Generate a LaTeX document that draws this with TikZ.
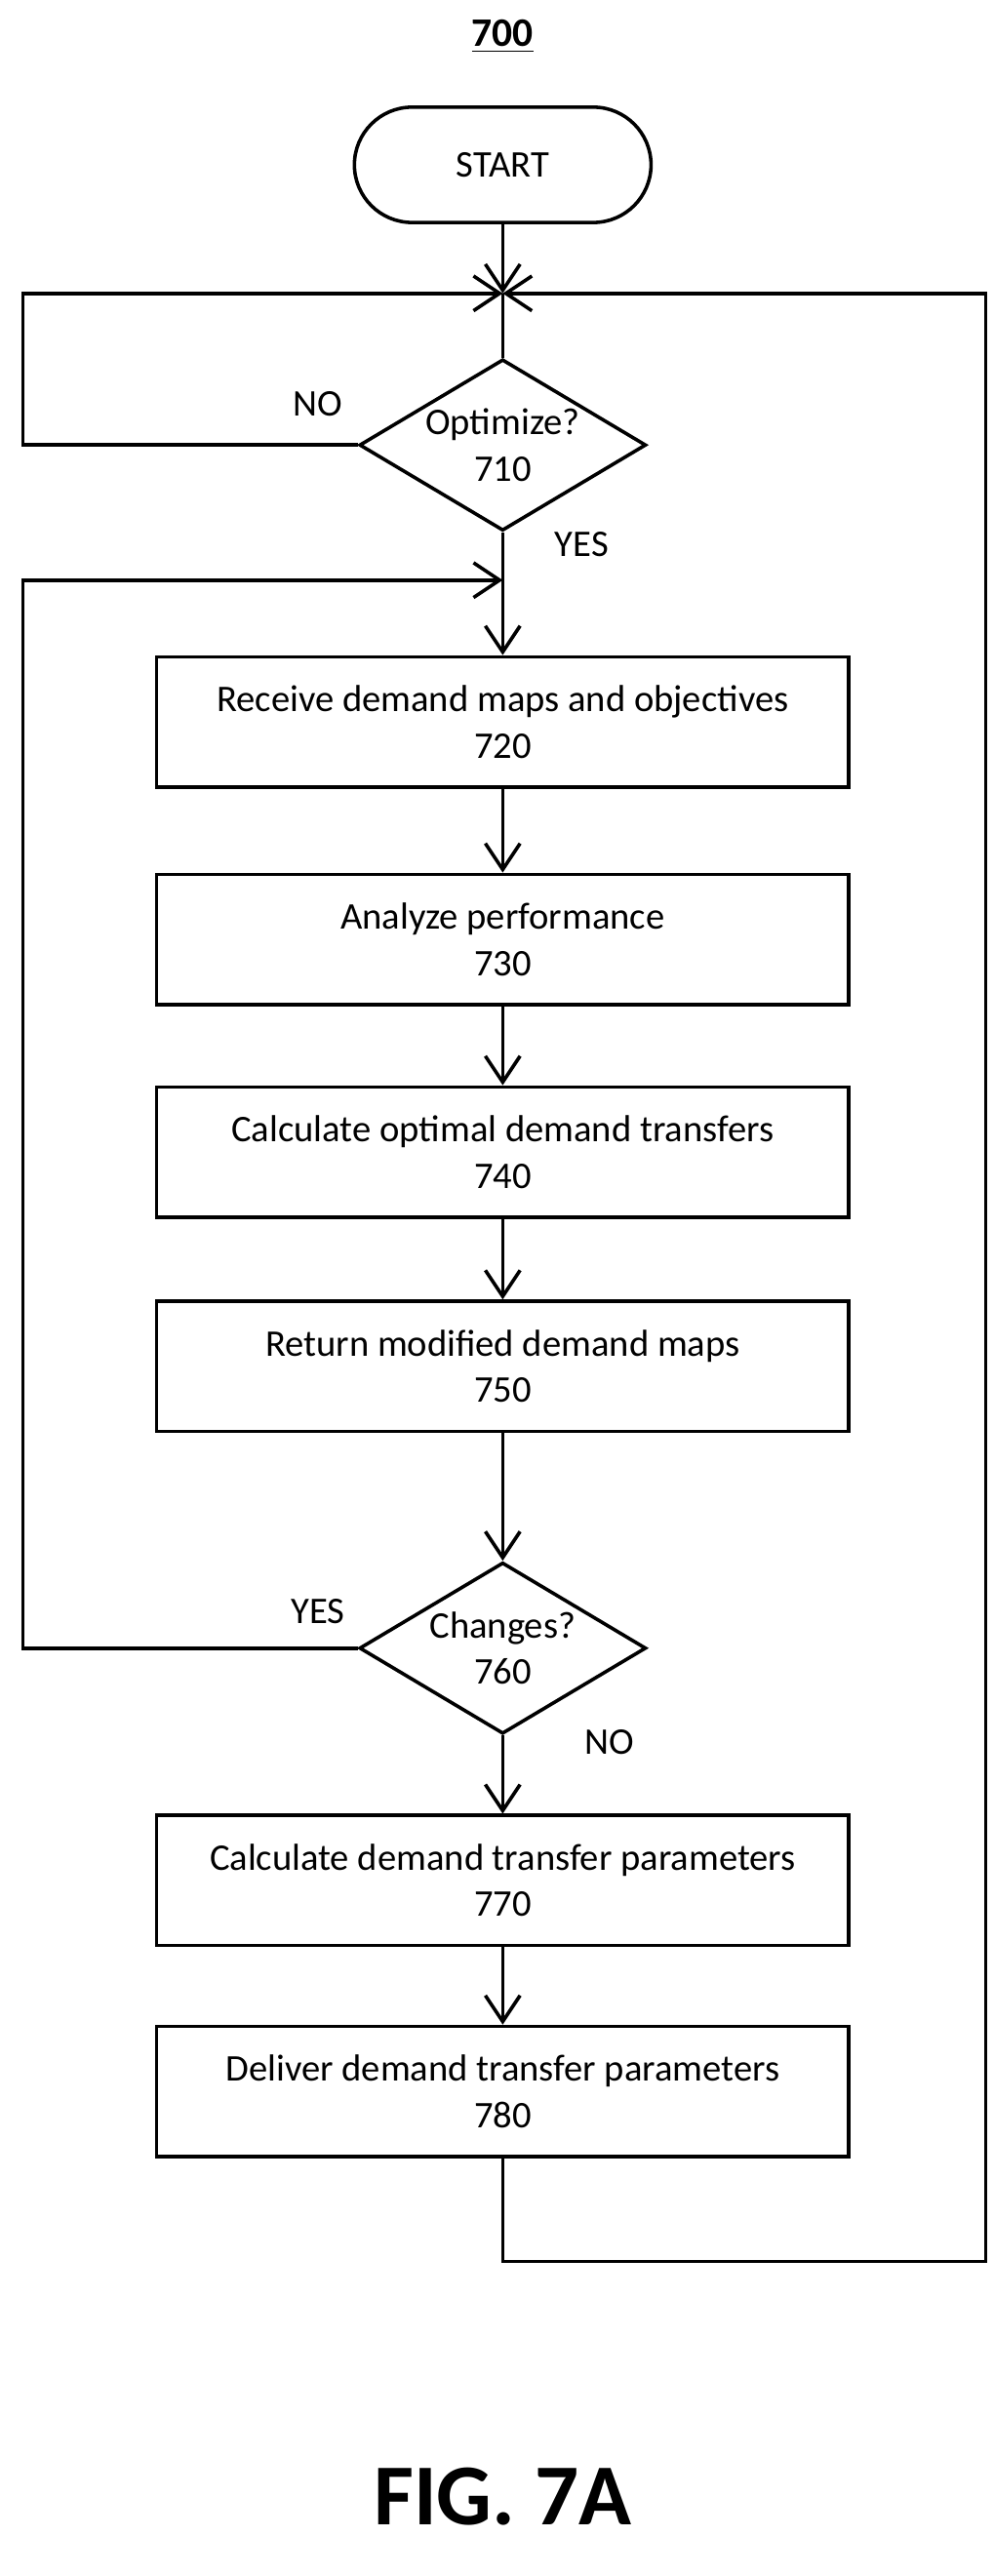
\documentclass[tikz,border=0pt]{standalone}
\usepackage{fontspec}
\setmainfont{Carlito}
\usetikzlibrary{shapes.geometric,arrows.meta}
\begin{document}
\begin{tikzpicture}[x=0.02cm,y=-0.02cm,line width=1.2pt,font=\fontsize{13}{16}\selectfont,
  box/.style={draw,rectangle,minimum width=8.4cm,minimum height=1.58cm,align=center},
  test/.style={draw,diamond,aspect=1.67,inner sep=0pt,minimum width=3.48cm,minimum height=2.08cm,align=center},
  arr/.style={-{Straight Barb[length=9pt,width=12pt]}}]
\useasboundingbox (0,0) rectangle (603,1563);
\node[font=\bfseries\fontsize{14}{16}\selectfont] (title) at (305,22) {\underline{700}};
\node[draw,rounded corners=0.7cm,minimum width=3.6cm,minimum height=1.4cm] (start) at (305,100) {START};
\coordinate (j1) at (305,178);
\node[test] (D710) at (305,270) {Optimize?\\710};
\coordinate (j2) at (305,352);
\node[box] (B720) at (305,438) {Receive demand maps and objectives\\720};
\node[box] (B730) at (305,570) {Analyze performance\\730};
\node[box] (B740) at (305,699) {Calculate optimal demand transfers\\740};
\node[box] (B750) at (305,829) {Return modified demand maps\\750};
\node[test] (D760) at (305,1000) {Changes?\\760};
\node[box] (B770) at (305,1141) {Calculate demand transfer parameters\\770};
\node[box] (B780) at (305,1269) {Deliver demand transfer parameters\\780};
\node[font=\bfseries\fontsize{30}{36}\selectfont] (fig) at (305,1515) {FIG. 7A};

% main flow
\draw[arr] (start) -- (j1);
\draw (j1) -- (D710);
\draw[arr] (D710) -- (B720);
\draw[arr] (B720) -- (B730);
\draw[arr] (B730) -- (B740);
\draw[arr] (B740) -- (B750);
\draw[arr] (B750) -- (D760);
\draw[arr] (D760) -- (B770);
\draw[arr] (B770) -- (B780);

% loops
\draw[arr] (D710.west) -- (14,270) -- (14,178) -- (j1);
\draw[arr] (D760.west) -- (14,1000) -- (14,352) -- (j2);
\draw[arr] (B780.south) -- (305,1372) -- (598,1372) -- (598,178) -- (j1);

\node (no1) at (193,245) {NO};
\node (yes1) at (353,330) {YES};
\node (yes2) at (193,978) {YES};
\node (no2) at (370,1057) {NO};
\end{tikzpicture}
\end{document}
